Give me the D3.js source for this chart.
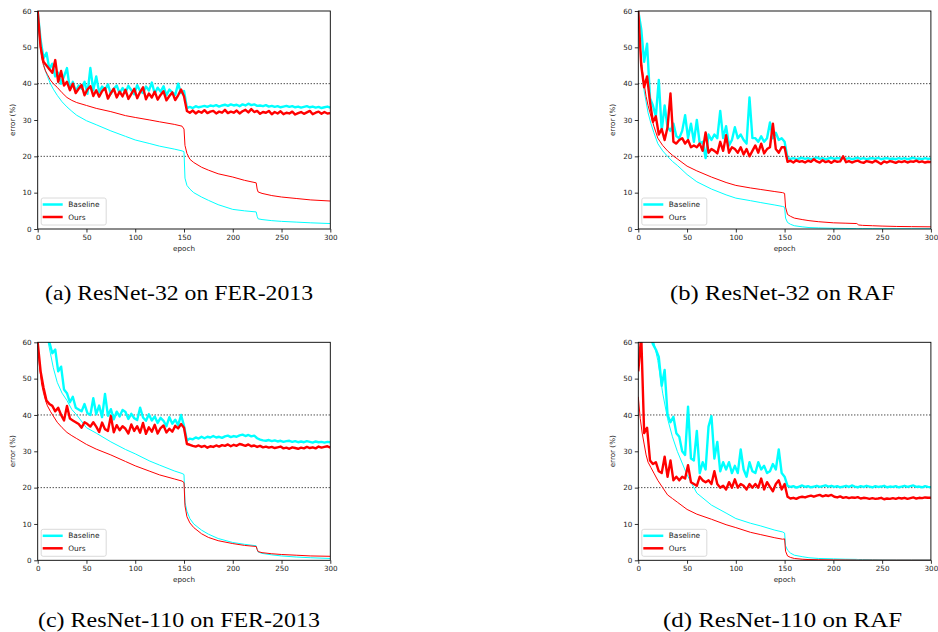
<!DOCTYPE html>
<html>
<head>
<meta charset="utf-8">
<script src="https://cdn.jsdelivr.net/npm/d3@7/dist/d3.min.js"></script>
<style>
  body { margin: 0; background: #fff; }
  .tick text { font-family: "DejaVu Sans", sans-serif; font-size: 7.2px; fill: #222; }
  .tick line { stroke: #000; stroke-width: 0.8; }
  .domain { display: none; }
</style>
</head>
<body>
<div id="fig"></div>
<script>
// test error, one value every 3 epochs (0,3,...,300), rows of 30 epochs
const aBaseTest = [
  60, 52, 47, 48.5, 44, 45.5, 42, 43, 40, 42,
  44.3, 38.5, 40.5, 37.8, 39.5, 38.6, 40.5, 37.2, 44.3, 38.2,
  42, 37.6, 39.2, 38.3, 39.8, 37.2, 38.6, 39.5, 37.4, 38.8,
  37.6, 39.4, 38.2, 37.1, 39.6, 38, 37.4, 39.2, 38.1, 40.3,
  37.3, 38.9, 37.8, 39.3, 36.8, 38.4, 37.6, 36.9, 40, 37.4,
  38, 33.3, 33.6, 33.3, 33.8, 33.5, 33.7, 33.9, 33.6, 34,
  33.8, 34.1, 33.7, 34, 34.2, 33.9, 34.3, 34, 34.2, 33.8,
  34.3, 34, 34.5, 34.1, 34.3, 33.9, 34, 33.8, 34.1, 33.7,
  33.9, 33.6, 33.8, 33.5, 33.7, 33.9, 33.6, 33.8, 33.5, 33.7,
  33.4, 33.6, 33.8, 33.5, 33.7, 33.4, 33.6, 33.3, 33.5, 33.7,
  33.4];
const aOursTest = [
  60, 50, 46, 45, 44, 43, 46.5, 40.5, 43.5, 39.5,
  40.5, 38.2, 40, 37.4, 38.6, 39.6, 36.8, 38.4, 39.3, 36.6,
  38.2, 36.4, 37.9, 38.8, 35.9, 37.4, 38.6, 36.2, 37.8, 36.5,
  38.3, 35.8, 37.2, 38.6, 36, 37.7, 39, 35.7, 37.3, 36.2,
  37.8, 35.6, 36.9, 37.9, 35.4, 36.6, 37.6, 35.5, 36.8, 38.4,
  36.5, 32.5, 32, 32.6, 31.8, 32.4, 32, 32.7, 31.9, 32.3,
  32.5, 31.8, 32.3, 32, 32.8, 31.9, 32.3, 32, 32.6, 31.8,
  32.4, 32.8, 32.1, 33, 32.2, 32.5, 31.7, 32.2, 32, 32.5,
  31.6, 32.2, 31.8, 32.4, 31.6, 32, 31.8, 32.3, 31.5, 31.9,
  32.2, 31.7, 32.1, 32.5, 31.6, 32, 32.3, 31.7, 32.2, 31.8,
  31.9];
const bBaseTest = [
  60, 55, 46, 51, 36, 34, 31, 41, 27, 34,
  28, 27, 29, 25.5, 25, 27, 31.3, 25, 29, 24,
  30, 23.5, 24, 19.5, 26, 24.5, 26, 25, 32.5, 25,
  28.3, 23, 24.5, 28, 25, 26, 24.5, 23.5, 36.2, 25,
  25, 24, 25.5, 24, 25, 29.3, 25, 26.5, 24.5, 25,
  24, 19.5, 19.3, 19.5, 19.2, 19.4, 19.6, 19.3, 19.5, 19.2,
  19.4, 19.7, 19.3, 19.5, 19.2, 19.4, 19.6, 19.3, 19.5, 19.4,
  19.6, 19.3, 19.5, 19.2, 19.4, 19.6, 19.3, 19.5, 19.2, 19.4,
  19.5, 19.3, 19.6, 19.2, 19.4, 19.5, 19.3, 19.4, 19.2, 19.5,
  19.3, 19.5, 19.2, 19.4, 19.6, 19.3, 19.4, 19.2, 19.5, 19.3,
  19.4];
const bOursTest = [
  60, 45, 39, 42, 35, 29.5, 31, 26, 27.5, 24.5,
  28, 37.3, 24, 23.5, 24.5, 25, 23.5, 24.5, 22.5, 23,
  22.5, 23.5, 21.5, 26.6, 21, 22, 21.5, 20.8, 24, 21.5,
  25.8, 21, 22.5, 22, 21, 22.5, 20.5, 22, 20, 21.5,
  23, 21, 23.5, 20.8, 22, 22.5, 29, 22, 21, 22.5,
  22.5, 18.5, 18.8, 18.3, 18.9, 18.5, 18.7, 18.3, 18.8, 18.5,
  19.2, 18.6, 18.3, 18.9, 18.4, 18.7, 18.2, 18.8, 18.5, 18.6,
  20, 18.4, 18.7, 18.3, 18.6, 18.8, 18.4, 18.2, 18.7, 18.5,
  18.3, 18.8, 18.4, 17.9, 18.6, 18.3, 18.7, 18.5, 18.2, 18.6,
  18.4, 18.7, 18.3, 18.6, 18.5, 18.8, 18.4, 18.6, 18.3, 18.5,
  18.4];
const cBaseTest = [
  75, 70, 66, 63, 60, 57, 58, 52, 53.3, 47,
  46, 43.5, 45, 42, 41.5, 41, 43, 40.5, 40, 44.6,
  40.2, 42.6, 39.4, 45.8, 39.8, 41.6, 38.8, 40.9, 39.6, 41.4,
  40.8, 38.9, 40.3, 39.1, 38.6, 42, 39.3, 38.4, 40.2, 38.5,
  39.6, 37.8, 39.2, 38.4, 36.9, 39.4, 37.6, 38.7, 37.2, 40,
  37, 33, 33.5, 33.3, 33.8, 33.5, 34, 33.6, 34, 33.8,
  34.2, 33.8, 34, 33.7, 34.1, 34.3, 33.9, 34.2, 34, 34.4,
  34.6, 34.2, 34.5, 34.1, 34.3, 33.6, 33.2, 33, 32.9, 33.1,
  32.8, 33, 32.7, 32.9, 32.6, 32.8, 32.9, 32.6, 32.8, 32.5,
  32.7, 32.5, 32.8, 32.6, 32.4, 32.7, 32.5, 32.6, 32.4, 32.6,
  32.5];
const cOursTest = [
  60, 52, 47.5, 44, 43, 42.5, 41, 42, 40, 38.5,
  42.5, 39, 38.5, 38, 37.5, 36.5, 38, 37.5, 36.8, 38,
  36.8, 35.3, 37.9, 36.1, 35.6, 39.7, 35.2, 37.2, 35.8, 36.9,
  36.2, 34.9, 37.4, 35.6, 36.9, 35.1, 37.8, 34.8, 36.6, 35.4,
  37.3, 34.9, 36.4, 37.1, 35.2, 36.2, 35.4, 37, 36.3, 37.5,
  36.5, 32, 31.8, 31.5, 31.3, 31.6, 31.2, 31.5, 31, 31.4,
  31.2, 31.6, 31.3, 31.7, 31.5, 31.9, 31.4, 31.8, 31.5, 32,
  31.8, 31.5, 31.9, 31.4, 31.6, 31.2, 31.5, 31.1, 31.3, 31,
  31.2, 30.9, 31.1, 31.3, 30.8, 31, 30.7, 31.1, 30.9, 30.7,
  31, 30.8, 31.2, 30.9, 31.1, 30.8, 31.3, 31, 31.2, 31.4,
  31];
const dBaseTest = [
  80, 75, 70, 66, 62, 59.5, 58, 56, 48, 52.4,
  40, 38, 39.5, 35, 34, 30, 29, 42.3, 28, 27.5,
  35.6, 24, 27, 25, 36.8, 39.7, 28, 32.6, 24.5, 27,
  25, 27, 24, 26, 24, 30.5, 25, 23, 27, 24.5,
  24, 27, 25, 26, 24, 24.5, 26.5, 25, 30.5, 24,
  23, 20.5, 20.2, 20.4, 20, 20.3, 20.6, 20.2, 20.4, 20.1,
  20.3, 20.5, 20.2, 20.4, 20.6, 20.3, 20.5, 20.2, 20.4, 20.1,
  20.3, 20.5, 20.2, 20.6, 20.3, 20.1, 20.4, 20.2, 20.5, 20.3,
  20.1, 20.4, 20.2, 20.3, 20.5, 20.1, 20.3, 20.2, 20.4, 20.1,
  20.3, 20.5, 20.2, 20.4, 20.6, 20.2, 20.3, 20.1, 20.4, 20.2,
  20.1];
const dOursTest = [
  52, 62, 35, 36.5, 27.5, 26.5, 27, 24.5, 24, 28.5,
  23, 27.5, 22, 23, 22, 23, 22.5, 26.2, 21.5, 21,
  20.5, 23, 22, 21.5, 22, 21, 24.5, 21, 20, 20.5,
  19.5, 21.5, 20, 22.3, 20, 21, 20.5, 19.5, 21, 20,
  21, 20, 22.5, 19.5, 21.5, 20.2, 19, 21, 22, 19.5,
  21, 17.5, 17, 17.2, 16.9, 17.3, 17.5, 17.3, 17.6, 17.8,
  17.5, 17.8, 18, 17.6, 17.9, 17.7, 18, 17.5, 17.3, 17.6,
  17.2, 17.4, 17.1, 17.3, 17.2, 17.4, 17, 17.2, 17.1, 16.9,
  17.1, 16.9, 17, 17.2, 16.8, 17, 16.9, 17.1, 16.9, 17.2,
  17, 17.2, 16.9, 17.1, 17.3, 17, 17.2, 17.1, 17.3, 17.2,
  17.2];

// train error, sampled at these epochs
const trainEpochs = [0, 2, 4, 6, 8, 10, 13, 16, 20, 25, 30, 35, 40, 50, 60, 75, 90, 100, 115, 125,
  140, 148, 150, 151, 153, 156, 160, 168, 175, 185, 200, 212, 224, 225, 226, 230, 240, 250, 265, 280, 300];
const aBaseTrain = [60, 53, 48, 45.5, 43.5, 42, 40, 38.5, 36.8, 35, 33.6, 32.4, 31.3, 29.8, 28.7, 27, 25.5, 24.5, 23.5, 22.8,
  22, 21.5, 21.3, 14, 12, 11, 10, 8.8, 7.9, 6.7, 5.4, 5, 4.7, 3.5, 2.8, 2.6, 2.3, 2.1, 1.9, 1.7, 1.5];
const aOursTrain = [60, 52, 47, 45, 43.5, 42.5, 41, 40, 39, 37.5, 36.2, 35.4, 34.8, 34, 33.2, 32.3, 31.2, 30.7, 30, 29.5,
  28.8, 28.3, 27.5, 23, 20.8, 19.2, 18.3, 17, 16.2, 15.2, 14.3, 13.4, 12.7, 11, 10.2, 9.8, 9.2, 8.8, 8.4, 8, 7.7];
const bBaseTrain = [60, 50, 43, 38, 35, 32, 29, 26.5, 23.5, 21.5, 20, 18.6, 17.5, 15, 13, 11, 9.4, 8.5, 7.8, 7.3,
  6.6, 6.2, 6, 3, 1.8, 1.3, 0.9, 0.6, 0.4, 0.3, 0.2, 0.15, 0.1, 0.1, 0.1, 0.1, 0.08, 0.07, 0.06, 0.05, 0.05];
const bOursTrain = [60, 50, 44, 40, 36.5, 34, 31, 28.3, 25, 23, 21.5, 20.3, 19.3, 17.3, 16, 14.3, 12.8, 12, 11.3, 10.9,
  10.3, 10, 9.8, 6, 4, 3.5, 3, 2.6, 2.3, 2, 1.7, 1.6, 1.5, 1.3, 1.1, 1, 0.9, 0.8, 0.7, 0.65, 0.6];
const cBaseTrain = [85, 80, 75, 70, 65, 61, 57, 53, 49, 46, 44, 41.5, 40, 36.5, 35, 32.6, 30.5, 29.3, 27.3, 26.2,
  24.6, 23.9, 23.6, 16, 13.5, 11.5, 10, 8.3, 7.2, 6, 4.9, 4.4, 4, 3, 2.3, 1.9, 1.5, 1.2, 0.9, 0.7, 0.5];
const cOursTrain = [60, 53, 48.5, 46, 44, 42.5, 41, 39.7, 38, 36.5, 35.2, 34.3, 33.5, 31.9, 30.6, 29, 27.2, 26, 24.5, 23.5,
  22.4, 21.8, 21.4, 15, 12, 10.3, 9, 7.3, 6.3, 5.4, 4.6, 4.1, 3.8, 3, 2.4, 2.1, 1.8, 1.6, 1.4, 1.2, 1.1];
const dBaseTrain = [90, 85, 80, 76, 72, 68, 64, 60, 55, 46, 39, 34, 30, 23.5, 18.5, 15.2, 13, 11.5, 10.2, 9.5,
  8.3, 7.8, 7.5, 4, 2.8, 2, 1.4, 1, 0.7, 0.5, 0.4, 0.3, 0.25, 0.22, 0.2, 0.2, 0.15, 0.12, 0.1, 0.1, 0.1];
const dOursTrain = [45, 39, 35, 32, 29, 27, 25.5, 24, 22, 20, 18, 17, 16, 14, 12.7, 11.3, 9.8, 9, 7.7, 7.1,
  6.2, 5.8, 5.9, 2.5, 1.2, 0.8, 0.5, 0.3, 0.2, 0.15, 0.1, 0.08, 0.06, 0.05, 0.05, 0.05, 0.05, 0.04, 0.04, 0.04, 0.04];

const captions = ["(a) ResNet-32 on FER-2013", "(b) ResNet-32 on RAF",
                  "(c) ResNet-110 on FER-2013", "(d) ResNet-110 on RAF"];
const legendNames = ["Baseline", "Ours"];
const yTicks = [0, 10, 20, 30, 40, 50, 60];
const xTicks = [0, 50, 100, 150, 200, 250, 300];
const refLines = [40, 20];

const testEpochs = d3.range(0, 301, 3);
const panels = [
  {base: aBaseTest, ours: aOursTest, baseTr: aBaseTrain, oursTr: aOursTrain, x: 37.7, y: 11, capW: 268},
  {base: bBaseTest, ours: bOursTest, baseTr: bBaseTrain, oursTr: bOursTrain, x: 638.3, y: 11, capW: 225},
  {base: cBaseTest, ours: cOursTest, baseTr: cBaseTrain, oursTr: cOursTrain, x: 37.7, y: 342.3, capW: 282},
  {base: dBaseTest, ours: dOursTest, baseTr: dBaseTrain, oursTr: dOursTrain, x: 638.3, y: 342.3, capW: 239}
];
const W = 292.6, H = 218;
const cyan = "#00ffff", red = "#ff0000";

const svg = d3.select("#fig").append("svg")
  .attr("width", 938).attr("height", 632)
  .style("background", "#fff");

const x = d3.scaleLinear().domain([0, 300]).range([0, W]);
const y = d3.scaleLinear().domain([0, 60]).range([H, 0]);

panels.forEach((p, k) => {
  const g = svg.append("g").attr("transform", "translate(" + p.x + "," + p.y + ")");
  const clipId = "clip" + k;
  g.append("clipPath").attr("id", clipId)
    .append("rect").attr("width", W).attr("height", H);

  const plot = g.append("g").attr("clip-path", "url(#" + clipId + ")");
  // reference dotted lines
  refLines.forEach((v) => {
    plot.append("line")
      .attr("x1", 0).attr("x2", W)
      .attr("y1", y(v)).attr("y2", y(v))
      .attr("stroke", "#000").attr("stroke-width", 1)
      .attr("stroke-dasharray", "1,2");
  });

  const testLine = d3.line().x((d, i) => x(testEpochs[i])).y((d) => y(d));
  const trainLine = d3.line().x((d, i) => x(trainEpochs[i])).y((d) => y(d));

  plot.append("path").attr("d", testLine(p.base))
    .attr("fill", "none").attr("stroke", cyan).attr("stroke-width", 2.4).attr("stroke-linejoin", "round");
  plot.append("path").attr("d", trainLine(p.baseTr))
    .attr("fill", "none").attr("stroke", cyan).attr("stroke-width", 1);
  plot.append("path").attr("d", testLine(p.ours))
    .attr("fill", "none").attr("stroke", red).attr("stroke-width", 2.4).attr("stroke-linejoin", "round");
  plot.append("path").attr("d", trainLine(p.oursTr))
    .attr("fill", "none").attr("stroke", red).attr("stroke-width", 1);

  // axes
  g.append("g").call(d3.axisLeft(y).tickValues(yTicks).tickSize(3.5).tickPadding(2.5));
  g.append("g").attr("transform", "translate(0," + H + ")")
    .call(d3.axisBottom(x).tickValues(xTicks).tickSize(3.5).tickPadding(2.5));
  g.append("rect").attr("width", W).attr("height", H)
    .attr("fill", "none").attr("stroke", "#000").attr("stroke-width", 0.9);

  g.append("text")
    .attr("transform", "translate(-23," + (H / 2) + ") rotate(-90)")
    .attr("text-anchor", "middle")
    .style("font-family", "DejaVu Sans, sans-serif").style("font-size", "7.2px").style("fill", "#222")
    .text("error (%)");
  g.append("text")
    .attr("x", W / 2).attr("y", H + 22)
    .attr("text-anchor", "middle")
    .style("font-family", "DejaVu Sans, sans-serif").style("font-size", "7.2px").style("fill", "#222")
    .text("epoch");

  // legend
  const lg = g.append("g").attr("transform", "translate(3.5," + (H - 31) + ")");
  lg.append("rect").attr("width", 65).attr("height", 27).attr("rx", 2)
    .attr("fill", "#fff").attr("fill-opacity", 0.8)
    .attr("stroke", "#d0d0d0").attr("stroke-width", 0.8);
  [cyan, red].forEach((c, i) => {
    const yy = 6.5 + i * 12.5;
    lg.append("line").attr("x1", 1.5).attr("x2", 21.5).attr("y1", yy).attr("y2", yy)
      .attr("stroke", c).attr("stroke-width", 2.5);
    lg.append("text").attr("x", 27).attr("y", yy).attr("dy", "0.35em")
      .style("font-family", "DejaVu Sans, sans-serif").style("font-size", "7.4px").style("fill", "#222")
      .text(legendNames[i]);
  });

  // caption
  svg.append("text")
    .attr("x", k % 2 === 0 ? 179 : 782.5)
    .attr("y", k < 2 ? 300 : 627)
    .attr("text-anchor", "middle")
    .attr("textLength", p.capW).attr("lengthAdjust", "spacingAndGlyphs")
    .style("font-family", "'Liberation Serif', 'Times New Roman', serif")
    .style("font-size", "22px").style("fill", "#000")
    .text(captions[k]);
});
</script>
</body>
</html>
